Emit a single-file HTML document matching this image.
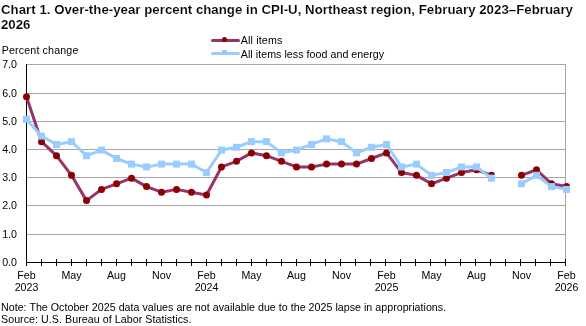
<!DOCTYPE html>
<html><head><meta charset="utf-8"><style>
html,body{margin:0;padding:0;background:#fff;width:586px;height:326px;overflow:hidden}
svg{display:block;will-change:transform}
text{font-family:'Liberation Sans',sans-serif;fill:#000}
</style></head><body>
<svg width="586" height="326" viewBox="0 0 586 326">
<rect x="0" y="0" width="586" height="326" fill="#fff"/>

<text x="1" y="14" textLength="571.96" lengthAdjust="spacing" style="font-size:13.25px;font-weight:bold;stroke:#fff;stroke-width:0.15px">Chart 1. Over-the-year percent change in CPI-U, Northeast region, February 2023–February</text>
<text x="1" y="29" style="font-size:13.25px;font-weight:bold;stroke:#fff;stroke-width:0.15px">2026</text>
<text x="1.7" y="53.5" textLength="76.65" lengthAdjust="spacing" style="font-size:10.67px">Percent change</text>
<rect x="27" y="64" width="539" height="1" fill="#a6a6a6"/>
<rect x="27" y="93" width="539" height="1" fill="#a6a6a6"/>
<rect x="27" y="121" width="539" height="1" fill="#a6a6a6"/>
<rect x="27" y="149" width="539" height="1" fill="#a6a6a6"/>
<rect x="27" y="177" width="539" height="1" fill="#a6a6a6"/>
<rect x="27" y="205" width="539" height="1" fill="#a6a6a6"/>
<rect x="27" y="234" width="539" height="1" fill="#a6a6a6"/>
<rect x="565" y="64" width="1" height="198" fill="#a6a6a6"/>
<text x="17" y="67.5" text-anchor="end" style="font-size:10.67px">7.0</text>
<text x="17" y="96.5" text-anchor="end" style="font-size:10.67px">6.0</text>
<text x="17" y="124.5" text-anchor="end" style="font-size:10.67px">5.0</text>
<text x="17" y="152.5" text-anchor="end" style="font-size:10.67px">4.0</text>
<text x="17" y="180.5" text-anchor="end" style="font-size:10.67px">3.0</text>
<text x="17" y="208.5" text-anchor="end" style="font-size:10.67px">2.0</text>
<text x="17" y="237.5" text-anchor="end" style="font-size:10.67px">1.0</text>
<text x="17" y="265.5" text-anchor="end" style="font-size:10.67px">0.0</text>
<rect x="26" y="64" width="1" height="202" fill="#000"/>
<rect x="26" y="262" width="540" height="1" fill="#000"/>
<rect x="26" y="259" width="1" height="7" fill="#000"/>
<rect x="41" y="259" width="1" height="7" fill="#000"/>
<rect x="56" y="259" width="1" height="7" fill="#000"/>
<rect x="71" y="259" width="1" height="7" fill="#000"/>
<rect x="86" y="259" width="1" height="7" fill="#000"/>
<rect x="101" y="259" width="1" height="7" fill="#000"/>
<rect x="116" y="259" width="1" height="7" fill="#000"/>
<rect x="131" y="259" width="1" height="7" fill="#000"/>
<rect x="146" y="259" width="1" height="7" fill="#000"/>
<rect x="161" y="259" width="1" height="7" fill="#000"/>
<rect x="176" y="259" width="1" height="7" fill="#000"/>
<rect x="191" y="259" width="1" height="7" fill="#000"/>
<rect x="206" y="259" width="1" height="7" fill="#000"/>
<rect x="221" y="259" width="1" height="7" fill="#000"/>
<rect x="236" y="259" width="1" height="7" fill="#000"/>
<rect x="251" y="259" width="1" height="7" fill="#000"/>
<rect x="266" y="259" width="1" height="7" fill="#000"/>
<rect x="281" y="259" width="1" height="7" fill="#000"/>
<rect x="296" y="259" width="1" height="7" fill="#000"/>
<rect x="310" y="259" width="1" height="7" fill="#000"/>
<rect x="325" y="259" width="1" height="7" fill="#000"/>
<rect x="340" y="259" width="1" height="7" fill="#000"/>
<rect x="355" y="259" width="1" height="7" fill="#000"/>
<rect x="370" y="259" width="1" height="7" fill="#000"/>
<rect x="385" y="259" width="1" height="7" fill="#000"/>
<rect x="400" y="259" width="1" height="7" fill="#000"/>
<rect x="415" y="259" width="1" height="7" fill="#000"/>
<rect x="430" y="259" width="1" height="7" fill="#000"/>
<rect x="445" y="259" width="1" height="7" fill="#000"/>
<rect x="460" y="259" width="1" height="7" fill="#000"/>
<rect x="475" y="259" width="1" height="7" fill="#000"/>
<rect x="490" y="259" width="1" height="7" fill="#000"/>
<rect x="505" y="259" width="1" height="7" fill="#000"/>
<rect x="520" y="259" width="1" height="7" fill="#000"/>
<rect x="535" y="259" width="1" height="7" fill="#000"/>
<rect x="550" y="259" width="1" height="7" fill="#000"/>
<rect x="565" y="259" width="1" height="7" fill="#000"/>
<text x="26.50" y="278.5" text-anchor="middle" style="font-size:10.67px">Feb</text>
<text x="26.50" y="290.5" text-anchor="middle" style="font-size:10.67px">2023</text>
<text x="71.50" y="278.5" text-anchor="middle" style="font-size:10.67px">May</text>
<text x="116.50" y="278.5" text-anchor="middle" style="font-size:10.67px">Aug</text>
<text x="161.50" y="278.5" text-anchor="middle" style="font-size:10.67px">Nov</text>
<text x="206.50" y="278.5" text-anchor="middle" style="font-size:10.67px">Feb</text>
<text x="206.50" y="290.5" text-anchor="middle" style="font-size:10.67px">2024</text>
<text x="251.50" y="278.5" text-anchor="middle" style="font-size:10.67px">May</text>
<text x="296.50" y="278.5" text-anchor="middle" style="font-size:10.67px">Aug</text>
<text x="341.50" y="278.5" text-anchor="middle" style="font-size:10.67px">Nov</text>
<text x="386.50" y="278.5" text-anchor="middle" style="font-size:10.67px">Feb</text>
<text x="386.50" y="290.5" text-anchor="middle" style="font-size:10.67px">2025</text>
<text x="431.50" y="278.5" text-anchor="middle" style="font-size:10.67px">May</text>
<text x="476.50" y="278.5" text-anchor="middle" style="font-size:10.67px">Aug</text>
<text x="521.50" y="278.5" text-anchor="middle" style="font-size:10.67px">Nov</text>
<text x="566.50" y="278.5" text-anchor="middle" style="font-size:10.67px">Feb</text>
<text x="566.50" y="290.5" text-anchor="middle" style="font-size:10.67px">2026</text>
<polyline points="26.50,96.73 41.50,141.66 56.50,155.70 71.50,175.35 86.50,200.62 101.50,189.39 116.50,183.78 131.50,178.16 146.50,186.58 161.50,192.20 176.50,189.39 191.50,192.20 206.50,195.01 221.50,166.93 236.50,161.31 251.50,152.89 266.50,155.70 281.50,161.31 296.50,166.93 311.50,166.93 326.50,164.12 341.50,164.12 356.50,164.12 371.50,158.50 386.50,152.89 401.50,172.54 416.50,175.35 431.50,183.78 446.50,178.16 461.50,172.54 476.50,169.74 491.50,175.35" fill="none" stroke="#993366" stroke-width="3" stroke-linejoin="round" stroke-linecap="round"/>
<polyline points="521.50,175.35 536.50,169.74 551.50,183.78 566.50,186.58" fill="none" stroke="#993366" stroke-width="3" stroke-linejoin="round" stroke-linecap="round"/>
<circle cx="26.50" cy="96.73" r="3.5" fill="#8b0000"/>
<circle cx="41.50" cy="141.66" r="3.5" fill="#8b0000"/>
<circle cx="56.50" cy="155.70" r="3.5" fill="#8b0000"/>
<circle cx="71.50" cy="175.35" r="3.5" fill="#8b0000"/>
<circle cx="86.50" cy="200.62" r="3.5" fill="#8b0000"/>
<circle cx="101.50" cy="189.39" r="3.5" fill="#8b0000"/>
<circle cx="116.50" cy="183.78" r="3.5" fill="#8b0000"/>
<circle cx="131.50" cy="178.16" r="3.5" fill="#8b0000"/>
<circle cx="146.50" cy="186.58" r="3.5" fill="#8b0000"/>
<circle cx="161.50" cy="192.20" r="3.5" fill="#8b0000"/>
<circle cx="176.50" cy="189.39" r="3.5" fill="#8b0000"/>
<circle cx="191.50" cy="192.20" r="3.5" fill="#8b0000"/>
<circle cx="206.50" cy="195.01" r="3.5" fill="#8b0000"/>
<circle cx="221.50" cy="166.93" r="3.5" fill="#8b0000"/>
<circle cx="236.50" cy="161.31" r="3.5" fill="#8b0000"/>
<circle cx="251.50" cy="152.89" r="3.5" fill="#8b0000"/>
<circle cx="266.50" cy="155.70" r="3.5" fill="#8b0000"/>
<circle cx="281.50" cy="161.31" r="3.5" fill="#8b0000"/>
<circle cx="296.50" cy="166.93" r="3.5" fill="#8b0000"/>
<circle cx="311.50" cy="166.93" r="3.5" fill="#8b0000"/>
<circle cx="326.50" cy="164.12" r="3.5" fill="#8b0000"/>
<circle cx="341.50" cy="164.12" r="3.5" fill="#8b0000"/>
<circle cx="356.50" cy="164.12" r="3.5" fill="#8b0000"/>
<circle cx="371.50" cy="158.50" r="3.5" fill="#8b0000"/>
<circle cx="386.50" cy="152.89" r="3.5" fill="#8b0000"/>
<circle cx="401.50" cy="172.54" r="3.5" fill="#8b0000"/>
<circle cx="416.50" cy="175.35" r="3.5" fill="#8b0000"/>
<circle cx="431.50" cy="183.78" r="3.5" fill="#8b0000"/>
<circle cx="446.50" cy="178.16" r="3.5" fill="#8b0000"/>
<circle cx="461.50" cy="172.54" r="3.5" fill="#8b0000"/>
<circle cx="476.50" cy="169.74" r="3.5" fill="#8b0000"/>
<circle cx="491.50" cy="175.35" r="3.5" fill="#8b0000"/>
<circle cx="521.50" cy="175.35" r="3.5" fill="#8b0000"/>
<circle cx="536.50" cy="169.74" r="3.5" fill="#8b0000"/>
<circle cx="551.50" cy="183.78" r="3.5" fill="#8b0000"/>
<circle cx="566.50" cy="186.58" r="3.5" fill="#8b0000"/>
<polyline points="26.50,119.19 41.50,136.04 56.50,144.46 71.50,141.66 86.50,155.70 101.50,150.08 116.50,158.50 131.50,164.12 146.50,166.93 161.50,164.12 176.50,164.12 191.50,164.12 206.50,172.54 221.50,150.08 236.50,147.27 251.50,141.66 266.50,141.66 281.50,152.89 296.50,150.08 311.50,144.46 326.50,138.85 341.50,141.66 356.50,152.89 371.50,147.27 386.50,144.46 401.50,166.93 416.50,164.12 431.50,175.35 446.50,172.54 461.50,166.93 476.50,166.93 491.50,178.16" fill="none" stroke="#99ccff" stroke-width="3" stroke-linejoin="round" stroke-linecap="round"/>
<polyline points="521.50,183.78 536.50,175.35 551.50,186.58 566.50,189.39" fill="none" stroke="#99ccff" stroke-width="3" stroke-linejoin="round" stroke-linecap="round"/>
<rect x="23.00" y="115.69" width="7" height="7" fill="#99ccff"/>
<rect x="38.00" y="132.54" width="7" height="7" fill="#99ccff"/>
<rect x="53.00" y="140.96" width="7" height="7" fill="#99ccff"/>
<rect x="68.00" y="138.16" width="7" height="7" fill="#99ccff"/>
<rect x="83.00" y="152.20" width="7" height="7" fill="#99ccff"/>
<rect x="98.00" y="146.58" width="7" height="7" fill="#99ccff"/>
<rect x="113.00" y="155.00" width="7" height="7" fill="#99ccff"/>
<rect x="128.00" y="160.62" width="7" height="7" fill="#99ccff"/>
<rect x="143.00" y="163.43" width="7" height="7" fill="#99ccff"/>
<rect x="158.00" y="160.62" width="7" height="7" fill="#99ccff"/>
<rect x="173.00" y="160.62" width="7" height="7" fill="#99ccff"/>
<rect x="188.00" y="160.62" width="7" height="7" fill="#99ccff"/>
<rect x="203.00" y="169.04" width="7" height="7" fill="#99ccff"/>
<rect x="218.00" y="146.58" width="7" height="7" fill="#99ccff"/>
<rect x="233.00" y="143.77" width="7" height="7" fill="#99ccff"/>
<rect x="248.00" y="138.16" width="7" height="7" fill="#99ccff"/>
<rect x="263.00" y="138.16" width="7" height="7" fill="#99ccff"/>
<rect x="278.00" y="149.39" width="7" height="7" fill="#99ccff"/>
<rect x="293.00" y="146.58" width="7" height="7" fill="#99ccff"/>
<rect x="308.00" y="140.96" width="7" height="7" fill="#99ccff"/>
<rect x="323.00" y="135.35" width="7" height="7" fill="#99ccff"/>
<rect x="338.00" y="138.16" width="7" height="7" fill="#99ccff"/>
<rect x="353.00" y="149.39" width="7" height="7" fill="#99ccff"/>
<rect x="368.00" y="143.77" width="7" height="7" fill="#99ccff"/>
<rect x="383.00" y="140.96" width="7" height="7" fill="#99ccff"/>
<rect x="398.00" y="163.43" width="7" height="7" fill="#99ccff"/>
<rect x="413.00" y="160.62" width="7" height="7" fill="#99ccff"/>
<rect x="428.00" y="171.85" width="7" height="7" fill="#99ccff"/>
<rect x="443.00" y="169.04" width="7" height="7" fill="#99ccff"/>
<rect x="458.00" y="163.43" width="7" height="7" fill="#99ccff"/>
<rect x="473.00" y="163.43" width="7" height="7" fill="#99ccff"/>
<rect x="488.00" y="174.66" width="7" height="7" fill="#99ccff"/>
<rect x="518.00" y="180.28" width="7" height="7" fill="#99ccff"/>
<rect x="533.00" y="171.85" width="7" height="7" fill="#99ccff"/>
<rect x="548.00" y="183.08" width="7" height="7" fill="#99ccff"/>
<rect x="563.00" y="185.89" width="7" height="7" fill="#99ccff"/>
<line x1="212.5" y1="40.5" x2="238.5" y2="40.5" stroke="#993366" stroke-width="3" stroke-linecap="round"/>
<circle cx="224.5" cy="39.5" r="2.5" fill="#8b0000"/>
<line x1="212.5" y1="53.5" x2="238.5" y2="53.5" stroke="#99ccff" stroke-width="3" stroke-linecap="round"/>
<rect x="222" y="50" width="5" height="4" fill="#99ccff"/>
<text x="240.8" y="43.5" textLength="41.46" lengthAdjust="spacing" style="font-size:10.67px">All items</text>
<text x="240.8" y="57.5" textLength="143.36" lengthAdjust="spacing" style="font-size:10.67px">All items less food and energy</text>
<text x="1" y="310.5" textLength="445.12" lengthAdjust="spacing" style="font-size:10.67px">Note: The October 2025 data values are not available due to the 2025 lapse in appropriations.</text>
<text x="1" y="322.5" textLength="190.35" lengthAdjust="spacing" style="font-size:10.67px">Source: U.S. Bureau of Labor Statistics.</text>
</svg></body></html>
